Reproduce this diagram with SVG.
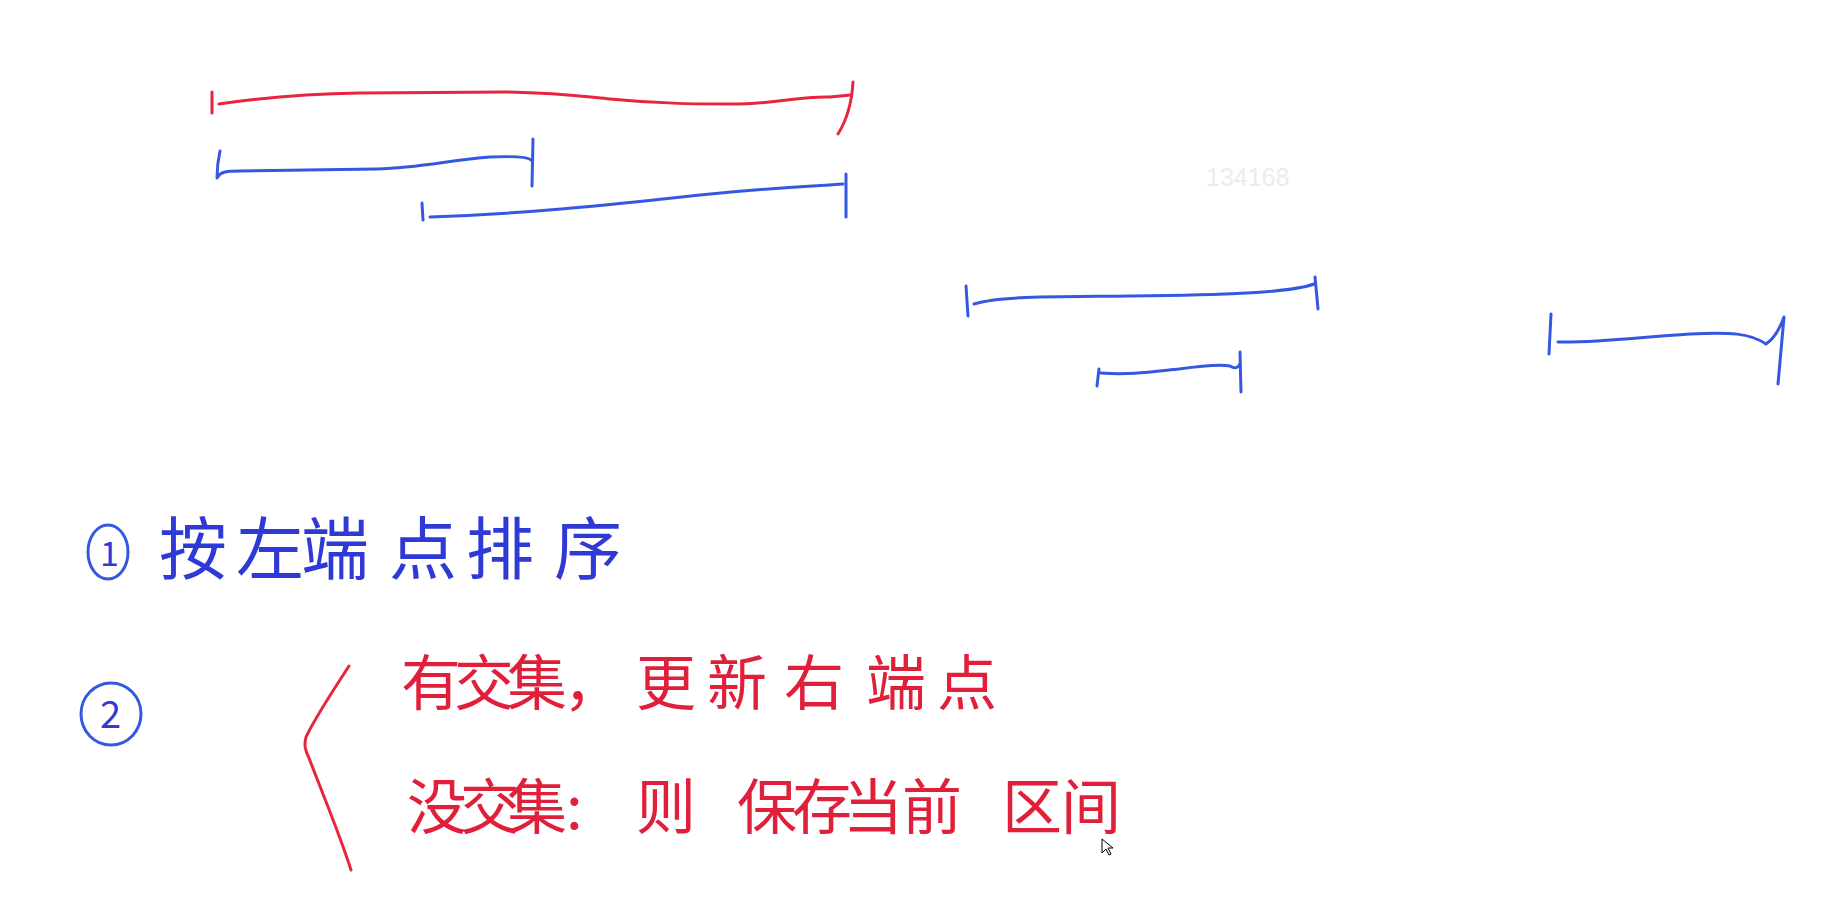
<svg xmlns="http://www.w3.org/2000/svg" width="1848" height="922" viewBox="0 0 1848 922">
<style>
.r{fill:none;stroke:#e8253f;stroke-width:3;stroke-linecap:round;stroke-linejoin:round}
.b{fill:none;stroke:#3558e0;stroke-width:3;stroke-linecap:round;stroke-linejoin:round}
.tb{font-family:"Noto Sans CJK SC","Noto Sans",sans-serif;fill:#2f3ad6}
.tr{font-family:"Noto Sans CJK SC","Noto Sans",sans-serif;fill:#e0203a}
.wm{font-family:"Liberation Sans",Arial,sans-serif;font-size:25px;fill:#ececec}
</style>
<rect width="1848" height="922" fill="#ffffff"/>
<text class="wm" x="1206" y="186">134168</text>
<g id="segments">
<g id="red-interval">
<path class="r" d="M212,92 L212,113"/>
<path class="r" d="M219,104 C260,98 300,94 360,93 L507,92 C560,93 580,96 610,99 C660,104 700,104 740,104 C780,103 800,96 830,97 L851,95"/>
<path class="r" d="M853,82 C852,100 848,118 838,134"/>
</g>
<g id="blue-interval-1">
<path class="b" d="M220,151 C218,160 217,170 217,178 C220,172 225,171 240,171 L377,169 C420,168 450,160 490,157 C515,156 528,157 531,160"/>
<path class="b" d="M533,139 L532,186"/>
</g>
<g id="blue-interval-2">
<path class="b" d="M422,203 L423,220"/>
<path class="b" d="M430,217 C520,214 600,206 700,195 C780,187 820,186 843,184"/>
<path class="b" d="M846,174 L846,217"/>
</g>
<g id="blue-interval-3">
<path class="b" d="M966,286 L968,316"/>
<path class="b" d="M974,304 C1000,296 1050,297 1131,296 C1220,295 1290,293 1314,284"/>
<path class="b" d="M1315,277 L1318,309"/>
</g>
<g id="blue-interval-4">
<path class="b" d="M1099,369 L1097,386"/>
<path class="b" d="M1101,373 C1130,375 1150,372 1179,369 C1200,366 1220,364 1230,366 C1235,369 1238,368 1240,364"/>
<path class="b" d="M1240,352 L1241,392"/>
</g>
<g id="blue-interval-5">
<path class="b" d="M1551,314 L1549,354"/>
<path class="b" d="M1558,342 C1600,343 1640,337 1690,334 C1730,332 1750,333 1766,344 C1775,338 1780,328 1784,317 L1778,384"/>
</g>
</g>
<g id="step-1">
<ellipse class="b" cx="108" cy="552" rx="20" ry="27"/>
<text class="tb" x="100" y="566" font-size="34">1</text>
<text class="tb" font-size="68" x="159 236 301 389 466 554" y="574">按左端点排序</text>
</g>
<g id="step-2">
<ellipse class="b" cx="111" cy="714" rx="30" ry="31"/>
<text class="tb" x="100" y="728" font-size="38">2</text>
<path class="r" d="M349,666 C330,695 315,718 306,737 C304,745 305,750 309,758 C325,800 340,835 351,870"/>
<text class="tr" font-size="60" x="401 454 507 563 636 707 784 866 937" y="705">有交集，更新右端点</text>
<text class="tr" font-size="60" x="407 460 507" y="829">没交集</text>
<text class="tr" font-size="60" x="566" y="829">:</text>
<text class="tr" font-size="60" x="636 737 792 843 902 1002 1061" y="829">则保存当前区间</text>
</g>
<path d="M1102,839 L1102,853 L1106,849 L1109,855 L1111,854 L1108,848 L1113,848 Z" fill="#ffffff" stroke="#000000" stroke-width="1"/>
</svg>
